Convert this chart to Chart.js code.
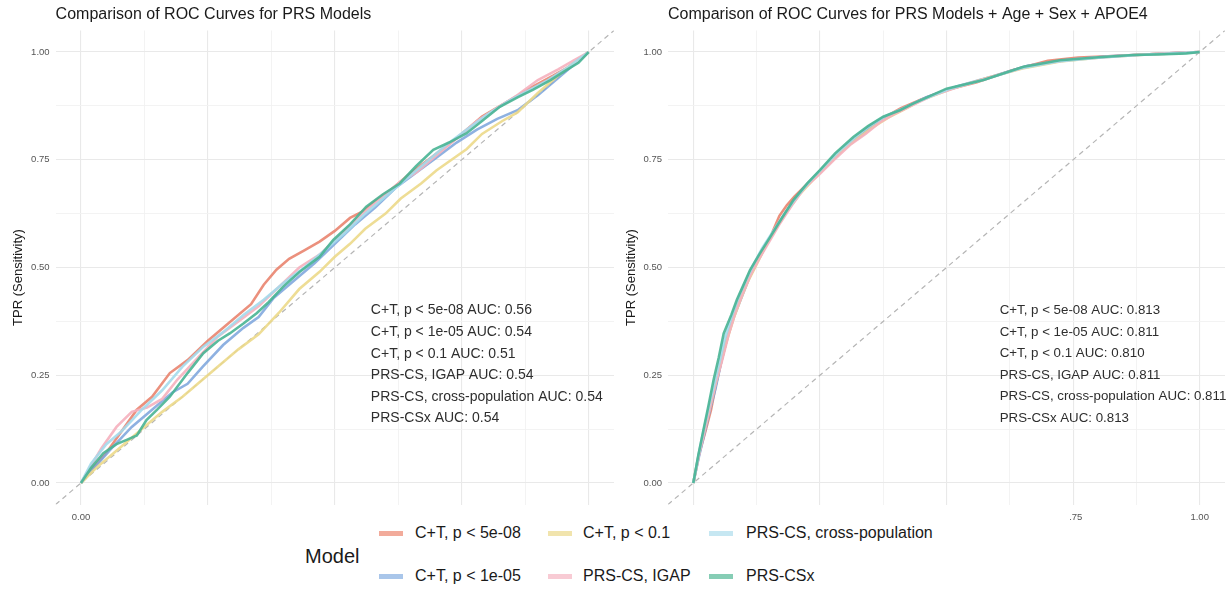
<!DOCTYPE html>
<html>
<head>
    <title>Comparison of ROC Curves for PRS Models</title>
    <script src="https://cdn.jsdelivr.net/npm/chart.js"></script>
    <style>
        body {
            margin: 0;
            background-color: #ffffff;
            font-family: 'Liberation Sans', Arial, sans-serif;
        }
        #wrap {
            position: relative;
            width: 1230px;
            height: 590px;
            overflow: hidden;
        }
        .panel {
            position: absolute;
            top: 0;
        }
        #legendBox {
            position: absolute;
            left: 100px;
            top: 506px;
            width: 969px;
            height: 84px;
            background: #ffffff;
        }
        .lg-title {
            position: absolute;
            font-size: 20px;
            color: #1a1a1a;
        }
        .lg-key {
            position: absolute;
            width: 24px;
            height: 5px;
        }
        .lg-text {
            position: absolute;
            font-size: 16px;
            line-height: 20px;
            color: #1a1a1a;
            white-space: nowrap;
        }
    </style>
</head>
<body>
<div id="wrap">
    <canvas id="leftChart" class="panel" width="615" height="590" style="left:0"></canvas>
    <canvas id="rightChart" class="panel" width="615" height="590" style="left:615px"></canvas>
    <div id="legendBox"></div>
</div>
<script>
    // ---- data ----
    const modelNames = ['C+T, p < 5e-08', 'C+T, p < 1e-05', 'C+T, p < 0.1', 'PRS-CS, IGAP', 'PRS-CS, cross-population', 'PRS-CSx'];
    const aucBase = ['0.56', '0.54', '0.51', '0.54', '0.54', '0.54'];
    const aucFull = ['0.813', '0.811', '0.810', '0.811', '0.811', '0.813'];
    const annoY = [0.40, 0.35, 0.30, 0.25, 0.20, 0.15];
    const gridTicks = [0, 0.125, 0.25, 0.375, 0.5, 0.625, 0.75, 0.875, 1];
    const diagLine = [-0.05, 1.05];

    // PRS only
    const fprA1 = [0, 0.02, 0.05, 0.08, 0.11, 0.14, 0.175, 0.21, 0.25, 0.29, 0.335, 0.36, 0.385, 0.41, 0.44, 0.47, 0.50, 0.53, 0.555, 0.58, 0.61, 0.65, 0.69, 0.74, 0.79, 0.84, 0.89, 0.93, 0.96, 1];
    const tprA1 = [0, 0.03, 0.07, 0.12, 0.17, 0.2, 0.255, 0.285, 0.33, 0.37, 0.415, 0.46, 0.495, 0.52, 0.54, 0.56, 0.585, 0.615, 0.63, 0.655, 0.68, 0.72, 0.755, 0.8, 0.85, 0.885, 0.92, 0.945, 0.965, 1];
    const fprA2 = [0, 0.03, 0.06, 0.1, 0.14, 0.18, 0.21, 0.24, 0.28, 0.32, 0.35, 0.38, 0.42, 0.46, 0.5, 0.54, 0.58, 0.62, 0.66, 0.7, 0.74, 0.78, 0.82, 0.86, 0.9, 0.94, 0.97, 1];
    const tprA2 = [0, 0.04, 0.08, 0.13, 0.17, 0.21, 0.23, 0.27, 0.32, 0.36, 0.385, 0.43, 0.47, 0.51, 0.555, 0.6, 0.64, 0.685, 0.72, 0.755, 0.79, 0.82, 0.845, 0.865, 0.9, 0.94, 0.97, 1];
    const fprA3 = [0, 0.03, 0.06, 0.09, 0.12, 0.16, 0.2, 0.23, 0.27, 0.31, 0.35, 0.39, 0.43, 0.47, 0.5, 0.53, 0.56, 0.6, 0.63, 0.67, 0.7, 0.73, 0.76, 0.79, 0.83, 0.86, 0.9, 0.93, 0.96, 1];
    const tprA3 = [0, 0.035, 0.065, 0.095, 0.125, 0.165, 0.2, 0.23, 0.27, 0.31, 0.345, 0.395, 0.45, 0.49, 0.525, 0.555, 0.59, 0.625, 0.66, 0.695, 0.725, 0.75, 0.775, 0.81, 0.84, 0.86, 0.905, 0.935, 0.965, 1];
    const fprA4 = [0, 0.02, 0.04, 0.07, 0.1, 0.13, 0.16, 0.19, 0.23, 0.27, 0.31, 0.35, 0.39, 0.43, 0.47, 0.51, 0.55, 0.59, 0.63, 0.66, 0.7, 0.74, 0.78, 0.82, 0.86, 0.9, 0.94, 0.97, 1];
    const tprA4 = [0, 0.04, 0.08, 0.13, 0.165, 0.175, 0.195, 0.24, 0.29, 0.34, 0.375, 0.41, 0.455, 0.5, 0.53, 0.575, 0.62, 0.66, 0.7, 0.72, 0.76, 0.8, 0.84, 0.87, 0.9, 0.935, 0.96, 0.98, 1];
    const fprA5 = [0, 0.02, 0.05, 0.08, 0.12, 0.16, 0.2, 0.24, 0.28, 0.32, 0.36, 0.4, 0.44, 0.48, 0.52, 0.56, 0.6, 0.64, 0.68, 0.72, 0.76, 0.8, 0.84, 0.88, 0.92, 0.96, 1];
    const tprA5 = [0, 0.045, 0.09, 0.12, 0.17, 0.215, 0.27, 0.315, 0.35, 0.39, 0.425, 0.465, 0.5, 0.54, 0.58, 0.625, 0.665, 0.705, 0.745, 0.785, 0.82, 0.855, 0.885, 0.91, 0.935, 0.965, 1];
    const fprA6 = [0, 0.02, 0.044, 0.07, 0.09, 0.11, 0.129, 0.15, 0.175, 0.21, 0.241, 0.27, 0.293, 0.32, 0.346, 0.37, 0.398, 0.431, 0.47, 0.497, 0.53, 0.562, 0.595, 0.628, 0.66, 0.694, 0.725, 0.759, 0.79, 0.825, 0.86, 0.89, 0.925, 0.956, 0.98, 1];
    const tprA6 = [0, 0.035, 0.069, 0.09, 0.1, 0.11, 0.146, 0.17, 0.2, 0.255, 0.301, 0.33, 0.347, 0.37, 0.394, 0.42, 0.455, 0.49, 0.525, 0.564, 0.6, 0.641, 0.67, 0.695, 0.735, 0.773, 0.79, 0.811, 0.84, 0.873, 0.895, 0.912, 0.935, 0.958, 0.975, 1];

    // PRS + Age + Sex + APOE4
    const fprB1 = [0, 0.012, 0.024, 0.035, 0.045, 0.055, 0.068, 0.08, 0.095, 0.11, 0.13, 0.15, 0.17, 0.185, 0.2, 0.23, 0.26, 0.29, 0.32, 0.35, 0.38, 0.41, 0.45, 0.5, 0.56, 0.63, 0.7, 0.76, 0.83, 0.9, 0.96, 1];
    const tprB1 = [0, 0.07, 0.12, 0.17, 0.23, 0.28, 0.34, 0.39, 0.44, 0.485, 0.525, 0.565, 0.62, 0.645, 0.665, 0.7, 0.735, 0.77, 0.8, 0.83, 0.85, 0.87, 0.89, 0.912, 0.93, 0.958, 0.98, 0.987, 0.991, 0.995, 0.998, 1];
    const fprB2 = [0, 0.011, 0.022, 0.033, 0.044, 0.055, 0.065, 0.08, 0.095, 0.11, 0.125, 0.145, 0.165, 0.19, 0.215, 0.24, 0.27, 0.3, 0.33, 0.36, 0.39, 0.42, 0.46, 0.52, 0.59, 0.66, 0.74, 0.82, 0.9, 0.96, 1];
    const tprB2 = [0, 0.06, 0.115, 0.17, 0.22, 0.28, 0.33, 0.385, 0.43, 0.475, 0.51, 0.555, 0.595, 0.64, 0.68, 0.71, 0.745, 0.78, 0.805, 0.835, 0.855, 0.872, 0.895, 0.92, 0.943, 0.968, 0.982, 0.99, 0.995, 0.998, 1];
    const fprB3 = [0, 0.01, 0.021, 0.032, 0.043, 0.054, 0.066, 0.08, 0.094, 0.108, 0.124, 0.142, 0.162, 0.186, 0.21, 0.236, 0.265, 0.295, 0.325, 0.355, 0.385, 0.415, 0.45, 0.51, 0.58, 0.65, 0.73, 0.81, 0.89, 0.95, 1];
    const tprB3 = [0, 0.062, 0.118, 0.172, 0.226, 0.278, 0.33, 0.383, 0.428, 0.468, 0.505, 0.548, 0.588, 0.632, 0.67, 0.703, 0.738, 0.772, 0.8, 0.826, 0.848, 0.866, 0.888, 0.915, 0.94, 0.962, 0.979, 0.988, 0.994, 0.997, 1];
    const fprB4 = [0, 0.012, 0.023, 0.034, 0.045, 0.057, 0.07, 0.083, 0.098, 0.113, 0.13, 0.15, 0.17, 0.195, 0.22, 0.248, 0.278, 0.31, 0.34, 0.37, 0.4, 0.43, 0.47, 0.53, 0.6, 0.67, 0.75, 0.83, 0.9, 0.96, 1];
    const tprB4 = [0, 0.07, 0.125, 0.18, 0.235, 0.285, 0.345, 0.395, 0.44, 0.482, 0.52, 0.56, 0.6, 0.645, 0.685, 0.715, 0.75, 0.785, 0.81, 0.838, 0.858, 0.875, 0.898, 0.922, 0.946, 0.97, 0.983, 0.99, 0.995, 0.998, 1];
    const fprB5 = [0, 0.01, 0.02, 0.031, 0.042, 0.052, 0.063, 0.077, 0.09, 0.104, 0.118, 0.136, 0.158, 0.18, 0.205, 0.23, 0.258, 0.288, 0.32, 0.35, 0.38, 0.412, 0.445, 0.505, 0.575, 0.645, 0.72, 0.8, 0.88, 0.95, 1];
    const tprB5 = [0, 0.064, 0.12, 0.178, 0.232, 0.282, 0.338, 0.39, 0.432, 0.47, 0.505, 0.545, 0.585, 0.625, 0.665, 0.7, 0.734, 0.77, 0.803, 0.83, 0.852, 0.868, 0.886, 0.914, 0.936, 0.962, 0.978, 0.987, 0.993, 0.997, 1];
    const fprB6 = [0, 0.01, 0.02, 0.03, 0.04, 0.05, 0.06, 0.075, 0.086, 0.1, 0.112, 0.13, 0.152, 0.175, 0.198, 0.225, 0.25, 0.28, 0.316, 0.345, 0.375, 0.408, 0.435, 0.5, 0.573, 0.652, 0.724, 0.8, 0.869, 0.93, 0.974, 1];
    const tprB6 = [0, 0.065, 0.123, 0.18, 0.239, 0.29, 0.347, 0.39, 0.425, 0.462, 0.494, 0.53, 0.571, 0.615, 0.657, 0.695, 0.726, 0.765, 0.803, 0.828, 0.85, 0.865, 0.881, 0.915, 0.935, 0.966, 0.981, 0.988, 0.993, 0.995, 0.997, 1];

    // ---- styles ----
    const lineColors = [
        'rgba(232, 124, 102, 0.85)',
        'rgba(122, 163, 220, 0.85)',
        'rgba(236, 217, 138, 0.9)',
        'rgba(245, 176, 190, 0.9)',
        'rgba(164, 218, 236, 0.9)',
        'rgba(72, 180, 148, 0.9)'
    ];
    const keyColors = ['#f2ab9b', '#a9c6ea', '#f1e4ad', '#f8cbd4', '#c6e7f2', '#86cdb5'];
    // key left, row centre, text left (page px)
    const legendPos = [
        [379, 533, 415], [379, 576, 415], [548, 533, 583],
        [548, 576, 583], [709, 533, 746], [709, 576, 746]
    ];
    const FONT = "'Liberation Sans', Arial, sans-serif";

    function pairs(xs, ys) {
        return xs.map((x, i) => ({x: x, y: ys[i]}));
    }

    const panelText = {
        id: 'panelText',
        afterDraw(chart, args, opts) {
            const {ctx, chartArea, scales} = chart;
            ctx.save();
            ctx.fillStyle = '#1a1a1a';
            ctx.textBaseline = 'middle';
            ctx.textAlign = 'left';
            ctx.font = '16px ' + FONT;
            ctx.fillText(opts.title, chartArea.left, 15);

            ctx.font = opts.annoSize + 'px ' + FONT;
            ctx.fillStyle = '#2e2e2e';
            const ax = scales.x.getPixelForValue(opts.annoX);
            modelNames.forEach((name, i) => {
                ctx.fillText(name + ' AUC: ' + opts.auc[i], ax, scales.y.getPixelForValue(annoY[i]));
            });

            ctx.translate(chartArea.left - 37, (chartArea.top + chartArea.bottom) / 2 + 10);
            ctx.rotate(-Math.PI / 2);
            ctx.textAlign = 'center';
            ctx.fillStyle = '#1a1a1a';
            ctx.font = '13px ' + FONT;
            ctx.fillText('TPR (Sensitivity)', 0, 0);
            ctx.restore();
        }
    };

    function axis(isX, yWidth) {
        return {
            type: 'linear',
            min: -0.05,
            max: 1.05,
            afterBuildTicks: s => { s.ticks = gridTicks.map(v => ({value: v})); },
            afterFit: s => { if (isX) { s.height = 24; } else { s.width = yWidth; } },
            border: {display: false},
            grid: {
                drawTicks: false,
                tickLength: 0,
                color: c => (c.tick && c.tick.value % 0.25 === 0) ? '#e9e9e9' : '#f2f2f2',
                lineWidth: c => (c.tick && c.tick.value % 0.25 === 0) ? 1.1 : 0.9
            },
            ticks: {
                autoSkip: false,
                maxRotation: 0,
                padding: isX ? 7 : 6,
                color: '#555555',
                font: {size: 9.5, family: FONT},
                callback: v => (v % 0.25 === 0) ? v.toFixed(2) : ''
            }
        };
    }

    function makeChart(id, fprs, tprs, title, auc, annoX, annoSize, yWidth, padRight) {
        const datasets = fprs.map((f, i) => ({
            label: modelNames[i],
            data: pairs(f, tprs[i]),
            showLine: true,
            borderColor: lineColors[i],
            borderWidth: 2.6,
            pointRadius: 0,
            tension: 0,
            order: 6 - i
        }));
        datasets.push({
            label: 'diag',
            data: pairs(diagLine, diagLine),
            showLine: true,
            borderColor: '#b5b5b5',
            borderDash: [5, 4],
            borderWidth: 1.2,
            pointRadius: 0,
            order: 10
        });
        return new Chart(document.getElementById(id).getContext('2d'), {
            type: 'scatter',
            data: {datasets: datasets},
            options: {
                responsive: false,
                animation: false,
                events: [],
                layout: {padding: {top: 30.5, bottom: 61.5, left: 0, right: padRight}},
                scales: {x: axis(true), y: axis(false, yWidth)},
                plugins: {
                    legend: {display: false},
                    tooltip: {enabled: false},
                    panelText: {title: title, auc: auc, annoX: annoX, annoSize: annoSize}
                }
            },
            plugins: [panelText]
        });
    }

    makeChart('leftChart',
        [fprA1, fprA2, fprA3, fprA4, fprA5, fprA6],
        [tprA1, tprA2, tprA3, tprA4, tprA5, tprA6],
        'Comparison of ROC Curves for PRS Models', aucBase, 0.571, 14, 55.6, 1);
    makeChart('rightChart',
        [fprB1, fprB2, fprB3, fprB4, fprB5, fprB6],
        [tprB1, tprB2, tprB3, tprB4, tprB5, tprB6],
        'Comparison of ROC Curves for PRS Models + Age + Sex + APOE4', aucFull, 0.605, 13.3, 53, 5);

    // legend (drawn over the x axis like the original)
    const wrap = document.getElementById('wrap');
    const ttl = document.createElement('div');
    ttl.className = 'lg-title';
    ttl.textContent = 'Model';
    ttl.style.left = '305px';
    ttl.style.top = '545px';
    wrap.appendChild(ttl);
    modelNames.forEach((name, i) => {
        const key = document.createElement('div');
        key.className = 'lg-key';
        key.style.background = keyColors[i];
        key.style.left = legendPos[i][0] + 'px';
        key.style.top = (legendPos[i][1] - 2) + 'px';
        wrap.appendChild(key);
        const txt = document.createElement('div');
        txt.className = 'lg-text';
        txt.textContent = name;
        txt.style.left = legendPos[i][2] + 'px';
        txt.style.top = (legendPos[i][1] - 10) + 'px';
        wrap.appendChild(txt);
    });
</script>
</body>
</html>
